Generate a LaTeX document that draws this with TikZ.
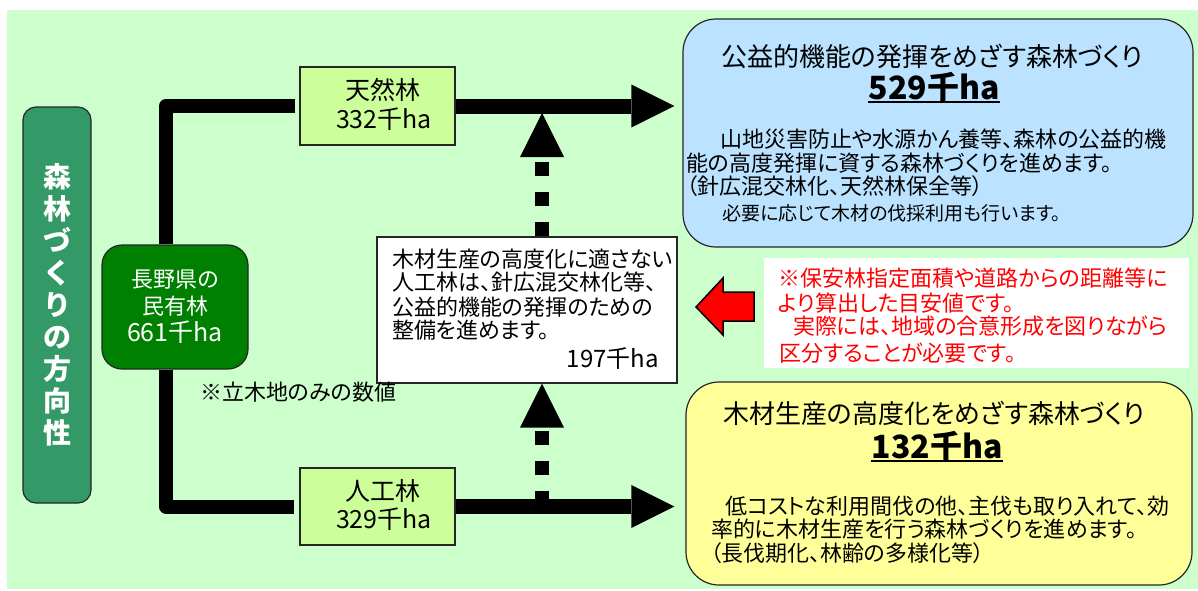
\documentclass[tikz,border=0pt]{standalone}
\usepackage{fontspec}
\setmainfont{Noto Sans CJK JP}[RawFeature={+palt}]
\usetikzlibrary{arrows.meta}
\definecolor{bggreen}{HTML}{CCFFCC}
\definecolor{titlegreen}{HTML}{339966}
\definecolor{darkgreen}{HTML}{008000}
\definecolor{limebox}{HTML}{CCFF99}
\definecolor{skyblue}{HTML}{BBE3FF}
\definecolor{paleyellow}{HTML}{FFFF99}
\definecolor{notered}{HTML}{FF0000}
\newcommand\fsz[1]{\fontsize{#1}{#1}\selectfont}
\begin{document}
\begin{tikzpicture}[x=1pt,y=-1pt,
  box/.style={draw=black!85, line width=1.2pt, inner sep=0pt},
  t/.style={inner sep=0pt, anchor=base west},
  tc/.style={inner sep=0pt, anchor=base},
  te/.style={inner sep=0pt, anchor=base east},
  body/.style={font=\fsz{22}},
  trunkline/.style={line width=14pt, line join=round, draw=black},
  mainarrow/.style={line width=15pt, -{Triangle[length=43pt,width=43pt,line width=0pt]}},
  dasharrow/.style={line width=14pt, dash pattern=on 14pt off 16pt, -{Triangle[length=44pt,width=44pt,line width=0pt]}},
  ul/.style={line width=2.5pt}]
\fill[white] (0,0) rectangle (1198,590);
\useasboundingbox (0,0) rectangle (1198,590);
\fill[bggreen] (7,10) rectangle (1198,589);

% left title
\node[box, fill=titlegreen, rounded corners=13pt, minimum width=68pt, minimum height=396pt,
  text=white, align=center, font={\bfseries\fontsize{28}{32}\selectfont}] (dir) at (57,305)
  {森\\林\\づ\\く\\り\\の\\方\\向\\性};

% private forest
\node[box, fill=darkgreen, rounded corners=20pt, minimum width=146pt, minimum height=124pt,
  text=white, align=center, font={\fontsize{22}{27}\selectfont}] (minyu) at (175,307)
  {長野県の\\民有林\\{\fontsize{25}{27}\selectfont 661千ha}};

% natural / planted forest boxes
\node[box, fill=limebox, minimum width=155pt, minimum height=78pt] (tennen) at (377.5,106) {};
\node[tc, font=\fsz{25}] (tennenname) at (383,99.5) {天然林};
\node[tc, font=\fsz{25}] (tennennum) at (384,128) {332千ha};
\node[box, fill=limebox, minimum width=155pt, minimum height=77pt] (jinko) at (377.5,506.5) {};
\node[tc, font=\fsz{25}] (jinkoname) at (383,500.5) {人工林};
\node[tc, font=\fsz{25}] (jinkonum) at (384,528) {329千ha};

% white middle box
\node[box, fill=white, minimum width=300pt, minimum height=146pt] (white) at (527,310) {};
\node[t, body] (w1) at (392,267) {木材生産の高度化に適さない};
\node[t, body] (w2) at (392,290) {人工林は、針広混交林化等、};
\node[t, body] (w3) at (392,315) {公益的機能の発揮のための};
\node[t, body] (w4) at (392,338) {整備を進めます。};
\node[te, font=\fsz{24}] (w5) at (659,367) {197千ha};

% note
\node[t, body] (note) at (200,400) {※立木地のみの数値};

% blue box
\node[box, fill=skyblue, rounded corners=33pt, minimum width=510pt, minimum height=228pt] (blue) at (938,133) {};
\node[tc, font=\fsz{26}] (btitle) at (932,66) {公益的機能の発揮をめざす森林づくり};
\node[tc, font={\bfseries\fsz{32}}] (n529) at (934,99) {529千ha};
\draw[ul] ([yshift=-3pt]n529.base west) -- ([yshift=-3pt]n529.base east);
\node[t, body] (b1) at (720,147) {山地災害防止や水源かん養等、森林の公益的機};
\node[t, body] (b2) at (686,171) {能の高度発揮に資する森林づくりを進めます。};
\node[t, body] (b3) at (686,194) {（針広混交林化、天然林保全等）};
\node[t, font=\fsz{19}] (b4) at (722,220) {必要に応じて木材の伐採利用も行います。};

% red note
\node[fill=white, inner sep=0pt, minimum width=425pt, minimum height=110pt] (rednote) at (976.5,313) {};
\node[t, body, text=notered] (r1) at (778,286) {※保安林指定面積や道路からの距離等に};
\node[t, body, text=notered] (r2) at (778,311) {より算出した目安値です。};
\node[t, body, text=notered] (r3) at (793,334) {実際には、地域の合意形成を図りながら};
\node[t, body, text=notered] (r4) at (779,361) {区分することが必要です。};
\draw[fill=notered, draw=black, line width=1.5pt, line join=miter]
  (696,307) -- (723,278) -- (723,292) -- (754,292) -- (754,321) -- (723,321) -- (723,335) -- cycle;

% yellow box
\node[box, fill=paleyellow, rounded corners=33pt, minimum width=506pt, minimum height=203pt] (yellow) at (939,483.5) {};
\node[tc, font=\fsz{26}] (ytitle) at (934,423) {木材生産の高度化をめざす森林づくり};
\node[tc, font={\bfseries\fsz{32}}] (n132) at (937,458) {132千ha};
\draw[ul] ([yshift=-3pt]n132.base west) -- ([yshift=-3pt]n132.base east);
\node[t, body] (y1) at (725,514) {低コストな利用間伐の他、主伐も取り入れて、効};
\node[t, body] (y2) at (711,537) {率的に木材生産を行う森林づくりを進めます。};
\node[t, body] (y3) at (710,561) {（長伐期化、林齢の多様化等）};

% connectors
\coordinate (trunk) at (166,0);
\coordinate (up1) at (542,113);
\coordinate (lo1) at (542,505);
\draw[dasharrow] (lo1) -- (white.south -| lo1);
\draw[dasharrow] (white.north -| lo1) -- (up1);
\draw[mainarrow] (tennen.east) -- ([xshift=-8pt]tennen.east -| blue.west);
\draw[mainarrow] (jinko.east) -- ([xshift=-11pt]jinko.east -| yellow.west);
\draw[trunkline] (minyu.north -| trunk) |- ([xshift=-4pt]tennen.west);
\draw[trunkline] (minyu.south -| trunk) |- ([xshift=-5pt]jinko.west);
\end{tikzpicture}
\end{document}
